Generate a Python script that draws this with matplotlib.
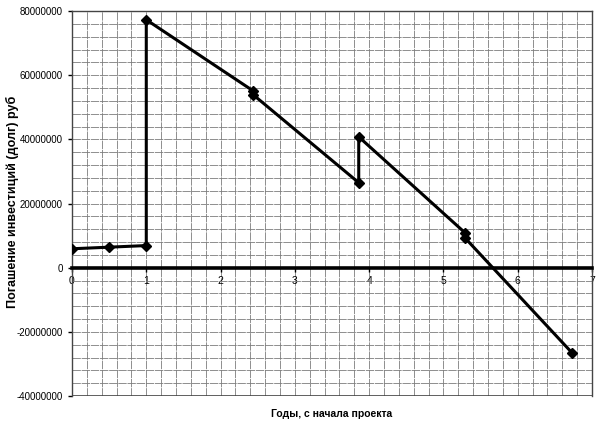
import numpy as np
import matplotlib.pyplot as plt
from matplotlib.ticker import MultipleLocator

plt.rcParams['font.family'] = ['Liberation Sans', 'DejaVu Sans']

# debt repayment curve, years from project start vs rubles
years = [0.0, 0.5, 1.0, 1.0, 2.44, 2.44, 3.86, 3.86, 5.29, 5.29, 6.73]
debt = [5.9e6, 6.4e6, 6.9e6, 77.3e6, 55.1e6, 53.9e6, 26.5e6, 40.8e6, 10.9e6, 9.3e6, -26.5e6]

xticks = [0, 1, 2, 3, 4, 5, 6, 7]
yticks = [-40000000, -20000000, 0, 20000000, 40000000, 60000000, 80000000]

fig = plt.figure(figsize=(5.97, 4.26), dpi=100)
ax = fig.add_axes([0.1206, 0.0704, 0.8710, 0.9036])

ax.plot(years, debt, color='black', lw=2.2, marker='D', ms=5.5, zorder=5)

ax.set_xlim(0, 7)
ax.set_ylim(-40e6, 80e6)
ax.set_xticks(xticks)
ax.set_yticks(yticks)
ax.set_yticklabels([str(v) for v in yticks])
ax.xaxis.set_minor_locator(MultipleLocator(0.2))
ax.yaxis.set_minor_locator(MultipleLocator(4e6))

# grid, scanned-paper look
ax.grid(which='both', color='#7c7c7c', lw=0.6, linestyle=(0, (10, 1)))
ax.set_axisbelow(True)

# x axis drawn through zero
ax.spines['bottom'].set_position(('data', 0))
ax.spines['bottom'].set_linewidth(2.6)
ax.axhline(-40e6, color='#444444', lw=1.2)
for s in ['left', 'top', 'right']:
    ax.spines[s].set_color('#444444')
    ax.spines[s].set_linewidth(1.0)

ax.tick_params(which='major', labelsize=7, length=3, width=1)
ax.tick_params(which='minor', length=0)
ax.tick_params(axis='x', pad=3, labelsize=7.5)

fig.text(0.021, 0.526, 'Погашение инвестиций (долг) руб', fontsize=9, fontweight='bold',
         rotation=90, ha='center', va='center')
fig.text(0.556, 0.022, 'Годы, с начала проекта', fontsize=7.5, fontweight='bold', ha='center')

fig.savefig('out.png', dpi=100)
